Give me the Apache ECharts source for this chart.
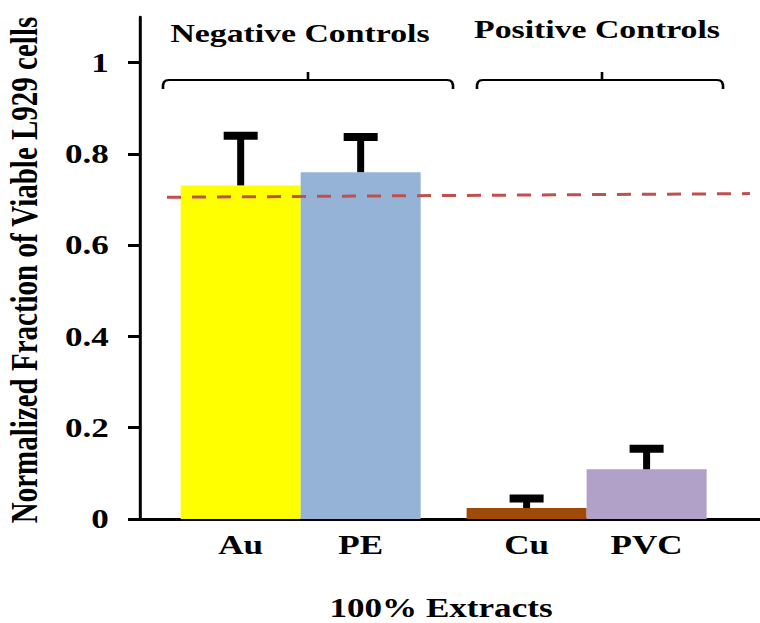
<!DOCTYPE html>
<html>
<head>
<meta charset="utf-8">
<script src="https://cdn.jsdelivr.net/npm/echarts@6/dist/echarts.min.js"></script>
<style>
html, body { margin: 0; padding: 0; background: #fff; overflow: hidden; }
#c { width: 585px; height: 623px; transform-origin: 0 0; }
</style>
</head>
<body>
<div id="c"></div>
<script>
// ---- data ----
const categories = ['Au', 'PE', 'Cu', 'PVC'];
const viability = [0.731, 0.760, 0.024, 0.109];
const errorTop = [0.840, 0.837, 0.045, 0.154];
const barColors = ['#FFFF00', '#95B3D7', '#9E4A08', '#B1A0C7'];
const thresholdValues = [0.705, 0.713];
const yTicks = [0, 0.2, 0.4, 0.6, 0.8, 1];
const groupNames = ['Negative Controls', 'Positive Controls'];
const yTitle = 'Normalized Fraction of Viable L929 cells';
const xTitle = '100% Extracts';

// ---- layout ----
const S = 760 / 585; // horizontal stretch of the original figure
document.getElementById('c').style.transform = 'scaleX(' + S + ')';
const px = t => t / S;
const slotPos = [0, 1, 2.383, 3.383];
const xMin = -0.839, xMax = 4.328;
const lineX = [-0.614, 4.244];
const FONT = 'Liberation Serif';

const chart = echarts.init(document.getElementById('c'), null, { renderer: 'svg' });

const barData = categories.map((c, i) => ({ value: [slotPos[i], viability[i]], itemStyle: { color: barColors[i] } }));
const errData = categories.map((c, i) => [slotPos[i], viability[i], errorTop[i]]);

function bracketPts(x1, x2) {
  return [
    [px(x1), 89], [px(x1), 85], [px(x1 + 1), 82], [px(x1 + 3), 80.5], [px(x1 + 6), 80],
    [px(x2 - 6), 80], [px(x2 - 3), 80.5], [px(x2 - 1), 82], [px(x2), 85], [px(x2), 89]
  ];
}
function bracketEls(x1, x2, xm) {
  return [
    { type: 'polyline', shape: { points: bracketPts(x1, x2) }, style: { stroke: '#000', lineWidth: 2, fill: null } },
    { type: 'line', shape: { x1: px(xm), y1: 80, x2: px(xm), y2: 72 }, style: { stroke: '#000', lineWidth: 2 } }
  ];
}

const textStyle = (s) => Object.assign({ fill: '#000', fontFamily: FONT, fontWeight: 'bold', fontSize: 27, align: 'center', verticalAlign: 'middle' }, s);

chart.setOption({
  animation: false,
  backgroundColor: '#fff',
  grid: { left: px(140), right: 0, top: 17, bottom: 104, containLabel: false },
  xAxis: {
    type: 'value', min: xMin, max: xMax,
    splitLine: { show: false },
    axisTick: { show: false },
    axisLine: { show: true, onZero: false, lineStyle: { color: '#000', width: 3 } },
    axisLabel: {
      customValues: slotPos,
      margin: 12,
      color: '#000', fontFamily: FONT, fontWeight: 'bold', fontSize: 27,
      formatter: v => { const i = slotPos.findIndex(p => Math.abs(p - v) < 1e-6); return i >= 0 ? categories[i] : ''; }
    }
  },
  yAxis: {
    type: 'value', min: 0, max: 1.1,
    splitLine: { show: false },
    axisLine: { show: true, onZero: false, lineStyle: { color: '#000', width: 3 / S } },
    axisTick: { show: true, customValues: yTicks, length: px(12), lineStyle: { color: '#000', width: 3 } },
    axisLabel: { customValues: yTicks, margin: 24, color: '#000', fontFamily: FONT, fontWeight: 'bold', fontSize: 27 }
  },
  series: [
    { type: 'bar', data: barData, barWidth: px(120), z: 2 },
    {
      type: 'custom', data: errData, z: 3,
      renderItem: (params, api) => {
        const x = api.value(0), v = api.value(1), e = api.value(2);
        const pTop = api.coord([x, e]);
        const pBar = api.coord([x, v]);
        const unit = api.size([1, 0])[0];
        const cw = unit * 34 / 120, sw = unit * 7 / 120;
        return {
          type: 'group',
          children: [
            { type: 'rect', shape: { x: pTop[0] - sw / 2, y: pTop[1], width: sw, height: pBar[1] - pTop[1] }, style: { fill: '#000' } },
            { type: 'rect', shape: { x: pTop[0] - cw / 2, y: pTop[1] - 4, width: cw, height: 8 }, style: { fill: '#000' } }
          ]
        };
      }
    },
    {
      type: 'line', data: [[lineX[0], thresholdValues[0]], [lineX[1], thresholdValues[1]]],
      symbol: 'none', silent: true, z: 5,
      lineStyle: { color: '#C0504D', width: 3, type: [px(14), px(11)] }
    }
  ],
  graphic: [
    { type: 'text', x: px(300), y: 33, style: textStyle({ text: groupNames[0], fontSize: 26 }) },
    { type: 'text', x: px(597), y: 29, style: textStyle({ text: groupNames[1], fontSize: 26 }) },
    ...bracketEls(163, 453, 308),
    ...bracketEls(477, 723, 602),
    { type: 'text', x: px(441), y: 608, style: textStyle({ text: xTitle }) },
    { type: 'text', x: px(24), y: 270, rotation: Math.PI / 2, style: textStyle({ text: yTitle, fontSize: 29 }) }
  ]
});
</script>
</body>
</html>
